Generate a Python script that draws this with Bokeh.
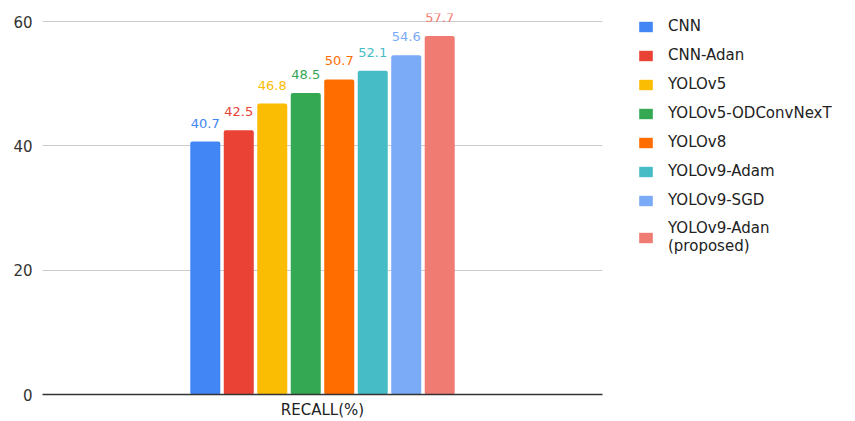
from bokeh.plotting import figure
from bokeh.layouts import row
from bokeh.models import ColumnDataSource, FactorRange, Range1d, Legend, LegendItem, FixedTicker
from bokeh.transform import dodge
from bokeh.core.properties import value
from bokeh.embed import file_html
from bokeh.resources import INLINE

category = ["RECALL(%)"]
series = ["CNN", "CNN-Adan", "YOLOv5", "YOLOv5-ODConvNexT", "YOLOv8",
          "YOLOv9-Adam", "YOLOv9-SGD", "YOLOv9-Adan\n(proposed)"]
values = [40.7, 42.5, 46.8, 48.5, 50.7, 52.1, 54.6, 57.7]
colors = ["#4285F4", "#EA4335", "#FBBC04", "#34A853", "#FF6D01",
          "#46BDC6", "#7BAAF7", "#F07B72"]
y_ticks = [0, 20, 40, 60]

FONT = "DejaVu Sans"

p = figure(width=605, height=421, x_range=FactorRange(*category),
           y_range=Range1d(0, 61.3), output_backend="svg", toolbar_location=None,
           min_border_left=42, min_border_right=3, min_border_top=13, min_border_bottom=26)
p.outline_line_color = None

pitch = 0.0598
bw = 0.0536
for i, (v, c) in enumerate(zip(values, colors)):
    src = ColumnDataSource(dict(x=category, y=[v], lab=[f"{v:.1f}"]))
    off = (i - 3.5) * pitch
    p.vbar(x=dodge("x", off, range=p.x_range), top="y", bottom=0, width=bw,
           source=src, fill_color=c, line_color=None, border_radius=2)
    p.text(x=dodge("x", off, range=p.x_range), y="y", text="lab", source=src,
           text_color=c, text_font=value(FONT), text_font_size="13px",
           text_align="center", text_baseline="bottom", y_offset=-14)

p.yaxis.ticker = FixedTicker(ticks=y_ticks)
p.yaxis.axis_line_color = None
p.yaxis.major_tick_line_color = None
p.yaxis.minor_tick_line_color = None
p.yaxis.major_tick_out = 0
p.yaxis.major_label_text_font = FONT
p.yaxis.major_label_text_font_size = "15px"
p.yaxis.major_label_text_color = "#333333"
p.yaxis.major_label_standoff = 10

p.xaxis.axis_line_color = "#333333"
p.xaxis.axis_line_width = 1.5
p.xaxis.major_tick_line_color = None
p.xaxis.minor_tick_line_color = None
p.xaxis.major_tick_out = 0
p.xaxis.major_label_text_font = FONT
p.xaxis.major_label_text_font_size = "15px"
p.xaxis.major_label_text_color = "#222222"
p.xaxis.major_label_standoff = 6

p.xgrid.grid_line_color = None
p.ygrid.grid_line_color = "#CCCCCC"
p.ygrid.ticker = FixedTicker(ticks=y_ticks)

# legend panel (placeholder glyphs are hidden; only their legend swatches show)
lg = figure(width=250, height=421, x_range=Range1d(0, 1), y_range=Range1d(0, 1),
            output_backend="svg", toolbar_location=None, min_border=0)
lg.axis.visible = False
lg.grid.visible = False
lg.outline_line_color = None
items = []
for s, v, c in zip(series, values, colors):
    r = lg.vbar(x=[-5], top=[v], bottom=0, width=0.1, fill_color=c, line_color=None,
                visible=False)
    items.append(LegendItem(label=s, renderers=[r]))

legend = Legend(items=items, location=(32, 139), border_line_color=None,
                background_fill_alpha=0, label_text_font=FONT, label_text_font_size="15px",
                label_text_color="#222222", glyph_width=17, glyph_height=13,
                label_standoff=14, spacing=9, padding=0, margin=0, label_height=20,
                inactive_fill_alpha=0)
lg.add_layout(legend, "center")

layout = row(p, lg)
open("out.html", "w").write(file_html(layout, INLINE))
